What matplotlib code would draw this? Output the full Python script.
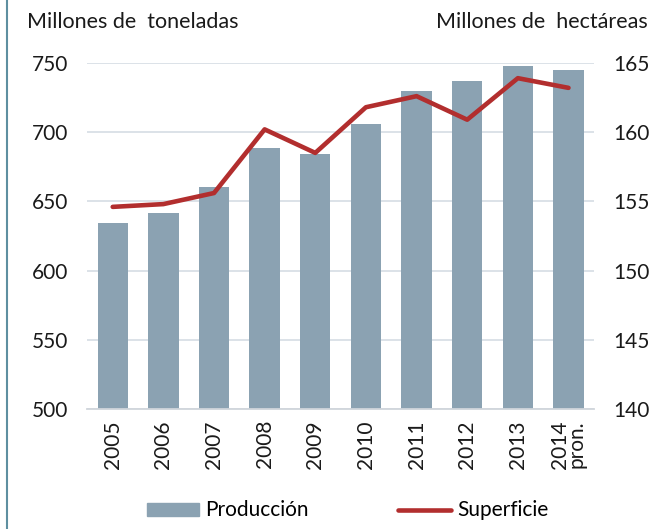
import matplotlib
matplotlib.use("Agg")
import matplotlib.pyplot as plt
from matplotlib.lines import Line2D
import numpy as np

plt.rcParams['font.family'] = ['Lato', 'DejaVu Sans']

years = ["2005", "2006", "2007", "2008", "2009", "2010", "2011", "2012", "2013", "2014\npron."]
produccion = [634.3, 641.5, 660.0, 688.5, 684.2, 705.8, 729.9, 737.0, 747.7, 744.9]
superficie = [154.6, 154.8, 155.6, 160.2, 158.5, 161.8, 162.6, 160.9, 163.9, 163.2]
left_ticks = [500, 550, 600, 650, 700, 750]
right_ticks = [140, 145, 150, 155, 160, 165]

bar_color = "#8BA2B2"
line_color = "#B22E2E"
grid_color = "#D9DFE6"
text_color = "#1a1a1a"
fs = 15

fig = plt.figure(figsize=(6.62, 5.29), dpi=100)
ax = fig.add_axes([0.132, 0.227, 0.765, 0.654])
x = np.arange(len(years))
ax.bar(x, produccion, width=0.6, color=bar_color, zorder=2)
ax.set_ylim(500, 750)
ax.set_xlim(-0.5, len(years) - 0.5)
ax.set_yticks(left_ticks)
ax.set_yticklabels([str(t) for t in left_ticks])
ax.yaxis.grid(True, color=grid_color, linewidth=1.3, zorder=0)
ax.set_axisbelow(True)
for s in ["top", "left", "right"]:
    ax.spines[s].set_visible(False)
ax.spines["bottom"].set_color("#D0D5DB")
ax.spines["bottom"].set_linewidth(1.3)
ax.tick_params(axis="y", length=0, pad=14, labelsize=fs, colors=text_color)
ax.tick_params(axis="x", length=0, pad=8, labelsize=fs, colors=text_color)
ax.set_xticks(x)
ax.set_xticklabels(years, rotation=90, va="top", ha="center", linespacing=0.8)

ax2 = ax.twinx()
ax2.plot(x, superficie, color=line_color, linewidth=3.3, solid_capstyle="round", zorder=3)
ax2.set_ylim(140, 165)
ax2.set_yticks(right_ticks)
ax2.set_yticklabels([str(t) for t in right_ticks])
for s in ["top", "left", "right", "bottom"]:
    ax2.spines[s].set_visible(False)
ax2.tick_params(axis="y", length=0, pad=14, labelsize=fs, colors=text_color)

fig.text(0.041, 0.958, "Millones de  toneladas", fontsize=15.5, color=text_color, ha="left", va="center")
fig.text(0.979, 0.958, "Millones de  hectáreas", fontsize=15.5, color=text_color, ha="right", va="center")

handles = [
    plt.Rectangle((0, 0), 1, 1, color=bar_color),
    Line2D([0], [0], color=line_color, linewidth=3.3, solid_capstyle="round"),
]
fig.legend(handles, ["Producción", "Superficie"], loc="center", bbox_to_anchor=(0.525, 0.035),
           ncol=2, frameon=False, fontsize=fs, handlelength=2.5, handleheight=0.6,
           handletextpad=0.3, columnspacing=4.3)

fig.add_artist(Line2D([0.0105, 0.0105], [0, 1], transform=fig.transFigure, color="#5E8FA0", linewidth=1.5))

fig.savefig("out.png", dpi=100)
